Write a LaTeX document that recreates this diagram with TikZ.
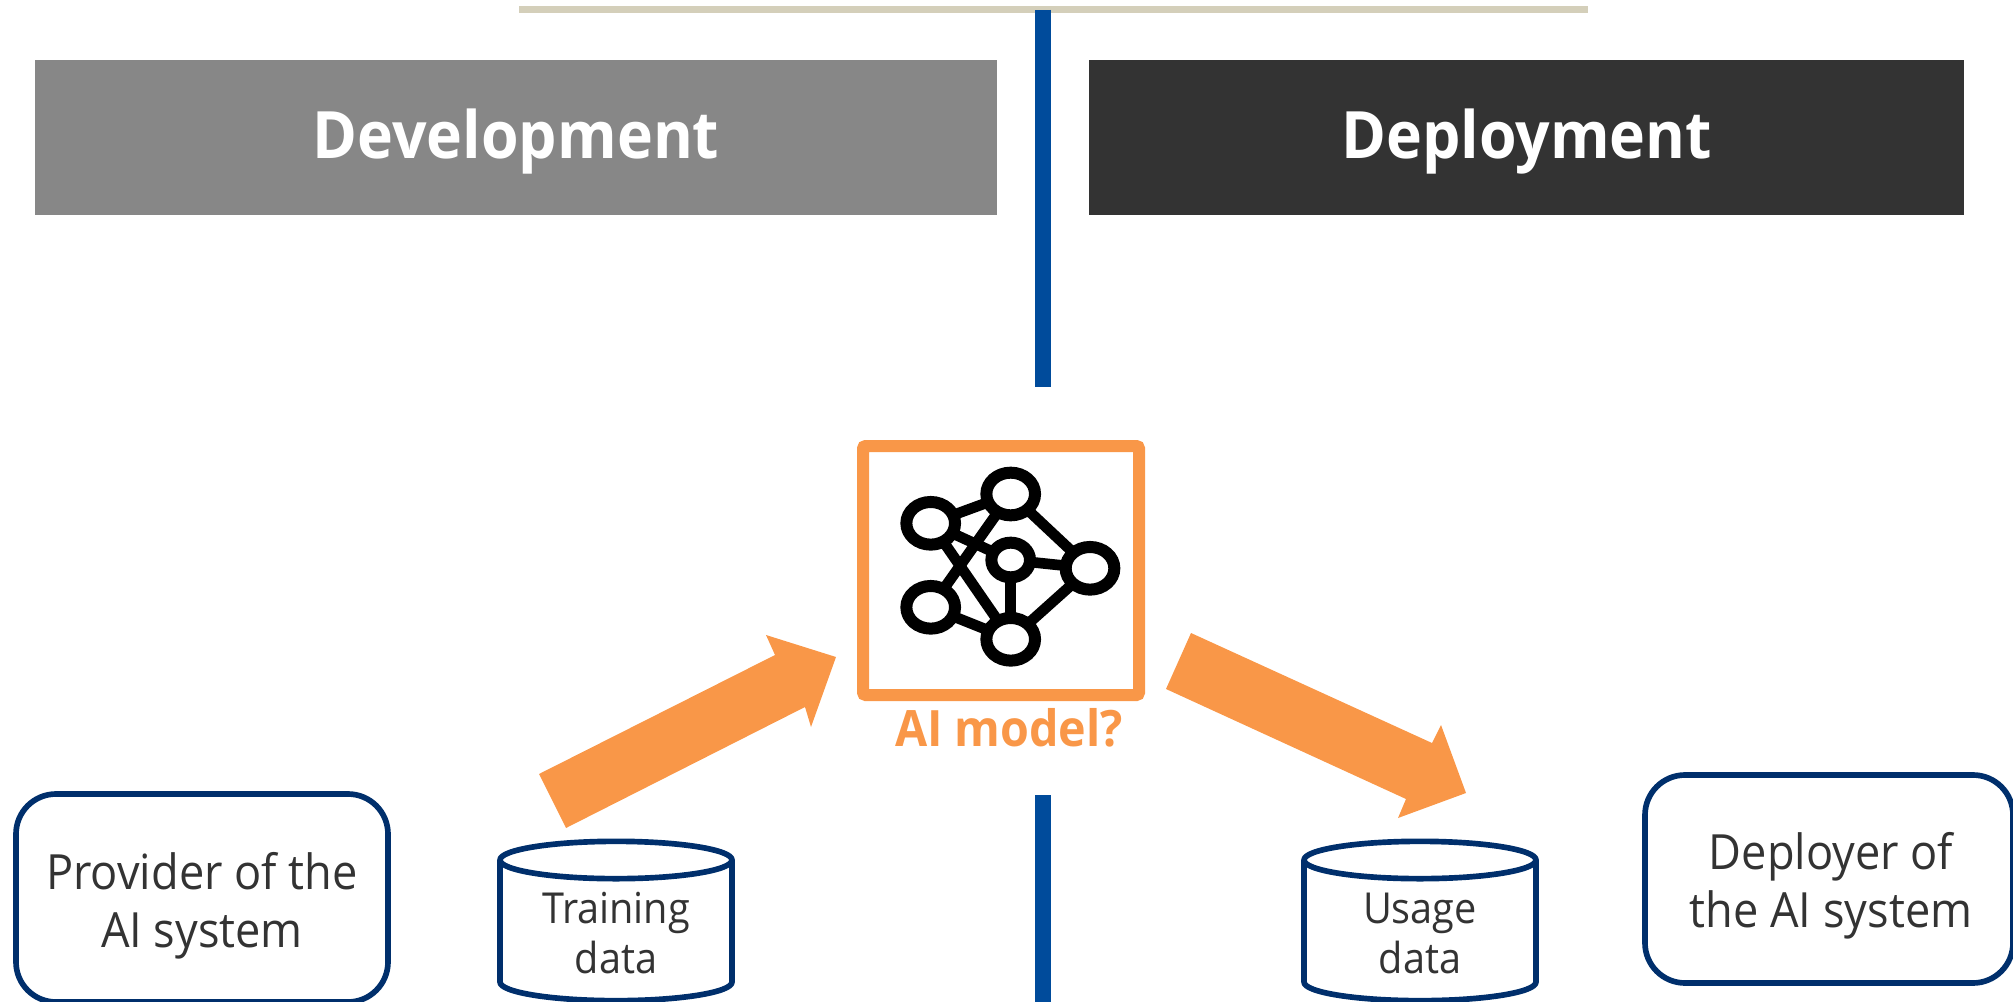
\documentclass[tikz,border=0pt]{standalone}
\usepackage{fontspec}
\setmainfont[FakeStretch=0.93]{Open Sans}
\usetikzlibrary{shapes.geometric,backgrounds}
\definecolor{orangeA}{HTML}{F99748}
\definecolor{navyA}{HTML}{002F6C}
\definecolor{blueA}{HTML}{004B9B}
\definecolor{tanA}{HTML}{D4CFBA}
\definecolor{grayA}{HTML}{878787}
\definecolor{darkA}{HTML}{333333}
\tikzset{
  x=0.75pt,y=-0.75pt,
  header/.style={draw=none,inner sep=0,minimum height=116.25pt},
  headertext/.style={inner sep=0,text=white,font=\fontsize{49}{56}\selectfont\bfseries},
  actor/.style={rounded corners=30pt,draw=navyA,line width=4.25pt,inner sep=0},
  actortext/.style={text=darkA,align=center,inner sep=0,font=\fontsize{36.4}{43.5}\selectfont},
  store/.style={draw=navyA,line width=4.25pt,line join=round},
  storetext/.style={text=darkA,align=center,inner sep=0,font=\fontsize{32}{37.5}\selectfont},
  divider/.style={draw=blueA,line width=12pt},
  netnode/.style={ellipse,draw=black,line width=9pt,fill=white,inner sep=0,minimum width=36.5pt,minimum height=32pt},
  netedge/.style={draw=black,line width=8pt},
  blockarrow/.style={fill=orangeA,draw=none},
}
\begin{document}
\begin{tikzpicture}
\useasboundingbox (0,0) rectangle (2013,1002);
% top rule and dividers
\coordinate (ruleL) at (519,9.5);
\coordinate (ruleR) at (1588,9.5);
\draw[tanA,line width=5.25pt] (ruleL) -- (ruleR);
\coordinate (divA) at (1043,10);
\coordinate (divB) at (1043,387);
\coordinate (divC) at (1043,795);
\coordinate (divD) at (1043,1002);
\draw[divider] (divA) -- (divB);
\draw[divider] (divC) -- (divD);
% headers
\node[header,fill=grayA,minimum width=721.5pt] (dev) at (516,137.5) {};
\node[headertext] (devtext) at (516,142) {Development};
\node[header,fill=darkA,minimum width=656.25pt] (dep) at (1526.5,137.5) {};
\node[headertext] (deptext) at (1526.5,142) {Deployment};
% model box
\node[draw=orangeA,line width=9pt,rounded corners=2pt,minimum width=207pt,minimum height=186.75pt,inner sep=0] (model) at (1001,570.5) {};
\node[text=orangeA,font=\fontsize{37.6}{42}\selectfont\bfseries,inner sep=0] (modellabel) at (1009,728) {AI model?};
% network
\node[netnode] (nTop) at (1010.7,494) {};
\node[netnode] (nLT) at (930.7,523.3) {};
\node[netnode] (nLB) at (930.7,607.3) {};
\node[netnode,minimum width=29pt,minimum height=26pt] (nMid) at (1010.7,560) {};
\node[netnode] (nR) at (1090,568.3) {};
\node[netnode] (nBot) at (1010.7,639.3) {};
\begin{scope}[on background layer]
\draw[netedge] (nLT.center) -- (nTop.center);
\draw[netedge] (nLT.center) -- (nMid.center);
\draw[netedge] (nLT.center) -- (nBot.center);
\draw[netedge] (nLB.center) -- (nTop.center);
\draw[netedge] (nLB.center) -- (nBot.center);
\draw[netedge] (nTop.center) -- (nR.center);
\draw[netedge] (nMid.center) -- (nR.center);
\draw[netedge] (nMid.center) -- (nBot.center);
\draw[netedge] (nR.center) -- (nBot.center);
\end{scope}
% block arrows
\coordinate (aTailA) at (539,774);
\coordinate (aTailB) at (566,828);
\coordinate (aNotchB) at (805,707);
\coordinate (aBarbB) at (811,727);
\coordinate (aTip) at (836,657);
\coordinate (aBarbA) at (766,635);
\coordinate (aNotchA) at (775,655);
\fill[blockarrow] (aTailA) -- (aTailB) -- (aNotchB) -- (aBarbB) -- (aTip) -- (aBarbA) -- (aNotchA) -- cycle;
\coordinate (bTailA) at (1191,633);
\coordinate (bTailB) at (1166,689);
\coordinate (bNotchB) at (1406,799);
\coordinate (bBarbB) at (1398,818);
\coordinate (bTip) at (1466,793);
\coordinate (bBarbA) at (1441,725);
\coordinate (bNotchA) at (1432,743);
\fill[blockarrow] (bTailA) -- (bTailB) -- (bNotchB) -- (bBarbB) -- (bTip) -- (bBarbA) -- (bNotchA) -- cycle;
% actors
\node[actor,minimum width=279pt,minimum height=156pt] (provider) at (202,898) {};
\node[actortext] (providertext) at (202,906) {Provider of the\\AI system};
\node[actor,minimum width=276pt,minimum height=156pt] (deployer) at (1829,879) {};
\node[actortext] (deployertext) at (1831,886) {Deployer of\\the AI system};
% stores
\coordinate (trainTL) at (500,860);
\coordinate (trainBR) at (732,982);
\draw[store] (trainTL) arc[start angle=180,end angle=0,x radius=87pt,y radius=14pt]
  -- (trainBR) arc[start angle=0,end angle=-180,x radius=87pt,y radius=14pt] -- cycle;
\draw[store] (trainTL) arc[start angle=180,end angle=360,x radius=87pt,y radius=14pt];
\node[storetext] (trainingtext) at (616,933) {Training\\data};
\coordinate (usageTL) at (1304,860);
\coordinate (usageBR) at (1536,982);
\draw[store] (usageTL) arc[start angle=180,end angle=0,x radius=87pt,y radius=14pt]
  -- (usageBR) arc[start angle=0,end angle=-180,x radius=87pt,y radius=14pt] -- cycle;
\draw[store] (usageTL) arc[start angle=180,end angle=360,x radius=87pt,y radius=14pt];
\node[storetext] (usagetext) at (1420,933) {Usage\\data};
\end{tikzpicture}
\end{document}
